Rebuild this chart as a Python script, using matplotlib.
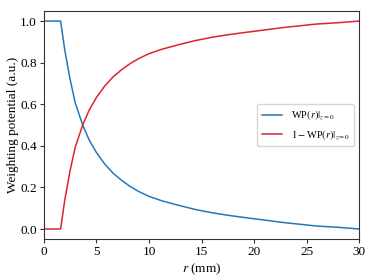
import numpy as np
import matplotlib
matplotlib.use('Agg')
import matplotlib.pyplot as plt

# radius (mm) and weighting potential
r = [0, 1.6, 2.0, 2.5, 3.0, 3.7, 4.3, 5.0, 5.8, 6.6, 7.4, 8.2, 9.0, 10.0,
     11.2, 12.8, 14.4, 16.0, 17.5, 19.1, 20.5, 22.8, 25.9, 28.0, 30.0]
wp = [1.0, 1.0, 0.86, 0.72, 0.605, 0.50, 0.43, 0.368, 0.312, 0.268, 0.234, 0.205, 0.181, 0.157,
      0.136, 0.114, 0.094, 0.078, 0.066, 0.055, 0.046, 0.031, 0.0145, 0.008, 0.0]

x_ticks = [0, 5, 10, 15, 20, 25, 30]
y_ticks = [0.0, 0.2, 0.4, 0.6, 0.8, 1.0]

plt.rcParams['font.family'] = ['Liberation Serif', 'DejaVu Serif']
plt.rcParams['mathtext.fontset'] = 'stix'
plt.rcParams['font.size'] = 9.5

fig = plt.figure(figsize=(3.74, 2.8), dpi=100)
ax = fig.add_axes([0.117, 0.145, 0.844, 0.817])

wp = np.array(wp)
ax.plot(r, wp, color='#2478b8', lw=1.1, label=r'WP$(r)|_{z=0}$')
ax.plot(r, 1 - wp, color='#d9262b', lw=1.1, label=r'$1-$WP$(r)|_{z=0}$')

ax.set_xlim(0, 30)
ax.set_xticks(x_ticks)
ax.set_yticks(y_ticks)
ax.set_xlabel(r'$r$ (mm)', labelpad=2)
ax.set_ylabel('Weighting potential (a.u.)', labelpad=1)
for s in ax.spines.values():
    s.set_color('#333333')
    s.set_linewidth(0.8)
ax.tick_params(width=0.8, length=3, color='#333333', labelsize=9.5, pad=2)

ax.legend(loc='center right', fontsize=7.5, framealpha=0.8, handlelength=2.0)

fig.savefig('out.png', dpi=100)
